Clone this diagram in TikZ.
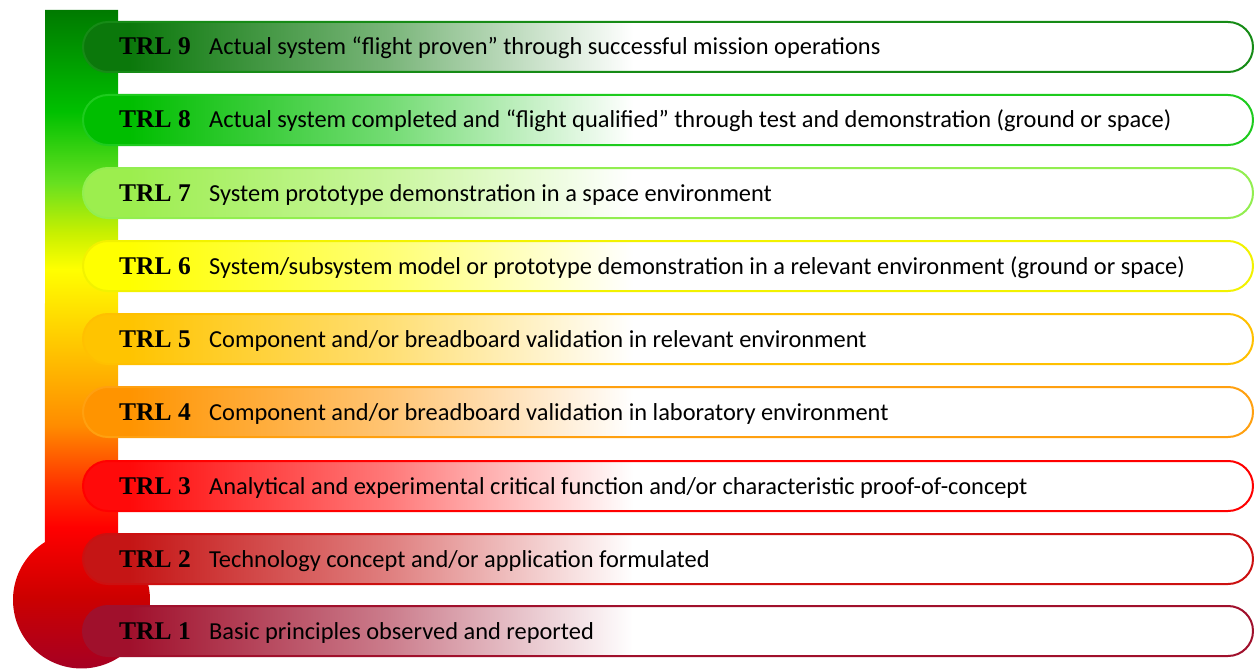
\documentclass[tikz,border=0pt]{standalone}
\usepackage{fontspec}
\setmainfont{Carlito}
\newfontfamily\trlfont{Liberation Serif}

\definecolor{fillix}{HTML}{0B780B}   \definecolor{lineix}{HTML}{168B16}
\definecolor{fillviii}{HTML}{00BE00} \definecolor{lineviii}{HTML}{1ECB1E}
\definecolor{fillvii}{HTML}{9CEE4E}  \definecolor{linevii}{HTML}{92EE50}
\definecolor{fillvi}{HTML}{FFFF00}   \definecolor{linevi}{HTML}{F2F200}
\definecolor{fillv}{HTML}{FFC400}    \definecolor{linev}{HTML}{FFC000}
\definecolor{filliv}{HTML}{FF9400}   \definecolor{lineiv}{HTML}{FFA010}
\definecolor{filliii}{HTML}{FF0A0A}  \definecolor{lineiii}{HTML}{FF0000}
\definecolor{fillii}{HTML}{C51515}   \definecolor{lineii}{HTML}{CC1010}
\definecolor{filli}{HTML}{A0102C}    \definecolor{linei}{HTML}{A0102C}
\colorlet{rowc}{fillix}

\pgfdeclarehorizontalshading[rowc]{rowfade}{100bp}{color(0bp)=(rowc); color(27bp)=(rowc);
  color(38bp)=(rowc!55!white); color(48.5bp)=(white); color(100bp)=(white)}
\pgfdeclareverticalshading{thermo}{100bp}{color(0bp)=(red!50!black);
  color(25bp)=({rgb,255:red,160;green,0;blue,40}); color(31bp)=({rgb,255:red,204;green,0;blue,0});
  color(36.3bp)=({rgb,255:red,255;green,0;blue,0}); color(39.3bp)=({rgb,255:red,255;green,48;blue,0});
  color(43.9bp)=({rgb,255:red,255;green,140;blue,0}); color(50bp)=({rgb,255:red,255;green,200;blue,0});
  color(55.6bp)=({rgb,255:red,255;green,255;blue,0}); color(58.3bp)=({rgb,255:red,200;green,240;blue,0});
  color(62.1bp)=({rgb,255:red,102;green,224;blue,32}); color(67.4bp)=({rgb,255:red,0;green,192;blue,0});
  color(75bp)=({rgb,255:red,0;green,122;blue,0}); color(100bp)=({rgb,255:red,0;green,122;blue,0})}

\tikzset{
  trl/.style={anchor=base west, inner sep=0pt, font=\trlfont\bfseries\fontsize{25.5}{26}\selectfont},
  desc/.style={anchor=base west, inner sep=0pt, font=\fontsize{24.4}{25}\selectfont},
}

\begin{document}
\begin{tikzpicture}[x=1pt,y=-1pt]
\useasboundingbox (0,0) rectangle (1254,669);
% thermometer
\shade[shading=thermo] (45,10) -- (118,10) -- (118,542)
  arc[start angle=-57.8, end angle=237.8, radius=68.5] -- cycle;
% levels
\foreach \n/\r/\c/\txt in {
  9/ix/47/{Actual system “flight proven” through successful mission operations},
  8/viii/120/{Actual system completed and “flight qualified” through test and demonstration (ground or space)},
  7/vii/193/{System prototype demonstration in a space environment},
  6/vi/266/{System/subsystem model or prototype demonstration in a relevant environment (ground or space)},
  5/v/339/{Component and/or breadboard validation in relevant environment},
  4/iv/412/{Component and/or breadboard validation in laboratory environment},
  3/iii/486/{Analytical and experimental critical function and/or characteristic proof-of-concept},
  2/ii/559/{Technology concept and/or application formulated},
  1/i/631/{Basic principles observed and reported}}{
  \colorlet{rowc}{fill\r}
  \shade[shading=rowfade, rounded corners=24.9] (83,\c-25) rectangle (1253,\c+25);
  \draw[line\r, line width=2pt, rounded corners=24.9] (83,\c-25) rectangle (1253,\c+25);
  \node[trl] (lbl\n) at (119,\c+8) {TRL \n};
  \node[desc] (txt\n) at (209,\c+8) {\txt};
}
\end{tikzpicture}
\end{document}
